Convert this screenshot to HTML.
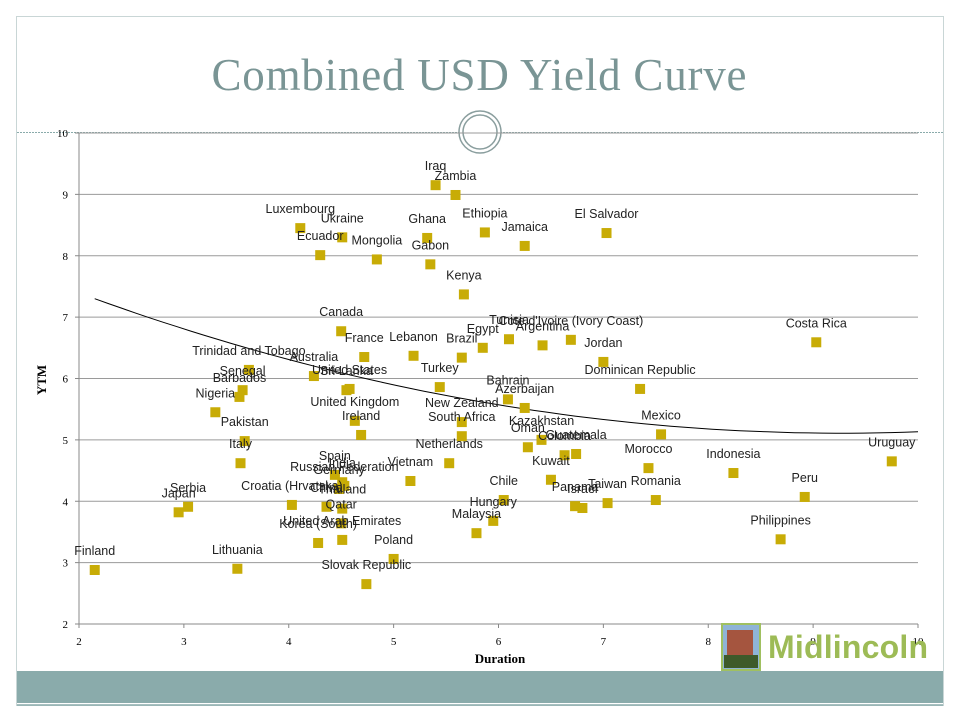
<!DOCTYPE html>
<html><head><meta charset="utf-8"><style>
html,body{margin:0;padding:0;background:#fff;}
body{width:960px;height:720px;position:relative;overflow:hidden;font-family:"Liberation Sans",sans-serif;}
</style></head><body>
<svg id="chart" width="960" height="720" xmlns="http://www.w3.org/2000/svg">
<rect x="16.5" y="16.5" width="927" height="689" fill="none" stroke="#c9d6d6" stroke-width="1"/>
<rect x="17" y="671" width="926" height="32" fill="#8aabab"/>
<line x1="17" y1="705" x2="943" y2="705" stroke="#8aabab" stroke-width="1.5"/>
<text x="479" y="90" text-anchor="middle" font-family="'Liberation Serif',serif" font-size="45" fill="#7a9595" textLength="535">Combined USD Yield Curve</text>
<line x1="17" y1="132.5" x2="943" y2="132.5" stroke="#8aabab" stroke-width="1" stroke-dasharray="2,1"/>
<circle cx="480" cy="132" r="21" fill="#fff" stroke="#8a9e9e" stroke-width="1.5"/>
<circle cx="480" cy="132" r="17" fill="none" stroke="#8a9e9e" stroke-width="1.5"/>
<g id="plot"></g>
<text x="500" y="663" text-anchor="middle" font-family="'Liberation Serif',serif" font-weight="bold" font-size="13" fill="#000">Duration</text>
<text transform="translate(46,380) rotate(-90)" text-anchor="middle" font-family="'Liberation Serif',serif" font-weight="bold" font-size="13" fill="#000">YTM</text>
<g>
<rect x="721" y="623" width="40" height="48" fill="#a0c060"/>
<rect x="723" y="625" width="36" height="44" fill="#8fb4d6"/>
<rect x="727" y="630" width="26" height="38" fill="#a5553f"/>
<rect x="724" y="655" width="34" height="13" fill="#3e5a2a"/>
<text x="768" y="658" font-family="'Liberation Sans',sans-serif" font-weight="bold" font-size="32" fill="#9dbb56" textLength="160">Midlincoln</text>
</g>
</svg>
<script>
const names = ["Finland","Lithuania","Japan","Serbia","Nigeria","Barbados","Senegal","Trinidad and Tobago","Pakistan","Italy","Croatia (Hrvatska)","Canada","France","Australia","Sri Lanka","United States","United Kingdom","Ireland","Spain","Russian Federation","India","Germany","China","Thailand","United Arab Emirates","Qatar","Korea (South)","Poland","Slovak Republic","Vietnam","Netherlands","Turkey","Lebanon","Brazil","Egypt","Tunisia","Argentina","Cote d'Ivoire (Ivory Coast)","Jordan","Dominican Republic","Bahrain","Azerbaijan","New Zealand","South Africa","Oman","Kazakhstan","Colombia","Guatemala","Kuwait","Chile","Hungary","Malaysia","Panama","Israel","Taiwan","Romania","Morocco","Mexico","Indonesia","Peru","Philippines","Costa Rica","Uruguay","Iraq","Zambia","Luxembourg","Ukraine","Ecuador","Mongolia","Ghana","Gabon","Ethiopia","Jamaica","El Salvador","Kenya"];
const duration = [2.15,3.51,2.95,3.04,3.30,3.53,3.56,3.62,3.58,3.54,4.03,4.50,4.72,4.24,4.55,4.58,4.63,4.69,4.44,4.53,4.51,4.48,4.36,4.51,4.51,4.50,4.28,5.00,4.74,5.16,5.53,5.44,5.19,5.65,5.85,6.10,6.42,6.69,7.00,7.35,6.09,6.25,5.65,5.65,6.28,6.41,6.63,6.74,6.50,6.05,5.95,5.79,6.73,6.80,7.04,7.50,7.43,7.55,8.24,8.92,8.69,9.03,9.75,5.40,5.59,4.11,4.51,4.30,4.84,5.32,5.35,5.87,6.25,7.03,5.67];
const ytm = [2.88,2.90,3.82,3.91,5.45,5.70,5.81,6.14,4.98,4.62,3.94,6.77,6.35,6.04,5.81,5.83,5.31,5.08,4.43,4.25,4.31,4.20,3.91,3.88,3.37,3.64,3.32,3.06,2.65,4.33,4.62,5.86,6.37,6.34,6.50,6.64,6.54,6.63,6.27,5.83,5.66,5.52,5.29,5.06,4.88,5.00,4.75,4.77,4.35,4.02,3.68,3.48,3.92,3.89,3.97,4.02,4.54,5.09,4.46,4.07,3.38,6.59,4.65,9.15,8.99,8.45,8.30,8.01,7.94,8.29,7.86,8.38,8.16,8.37,7.37];
const xTicks = [2,3,4,5,6,7,8,9,10];
const yTicks = [2,3,4,5,6,7,8,9,10];
const trendCoef = [8.822,-0.801,0.0432]; // y = a + b x + c x^2
const trendRange = [2.15,10];

const NS="http://www.w3.org/2000/svg";
const X0=79,X1=918,Y0=624,Y1=133;
function sx(v){return X0+(v-2)/(10-2)*(X1-X0);}
function sy(v){return Y0-(v-2)/(10-2)*(Y0-Y1);}
const plot=document.getElementById('plot');
function mk(tag,attrs){const e=document.createElementNS(NS,tag);for(const k in attrs)e.setAttribute(k,attrs[k]);plot.appendChild(e);return e;}

yTicks.forEach(t=>{
  const g=mk('line',{x1:X0,x2:X1,y1:sy(t),y2:sy(t),stroke:t===2?'#888':'#9a9a9a','stroke-width':1});
  
  
  const tk=mk('line',{x1:X0-4,x2:X0,y1:sy(t),y2:sy(t),stroke:'#888'});
  
  
  const l=mk('text',{x:X0-11,y:sy(t)+4,'text-anchor':'end','font-family':"'Liberation Serif',serif",'font-size':11,fill:'#000'});
  l.textContent=t;
  
  
});
const ya=mk('line',{x1:X0,x2:X0,y1:Y1,y2:Y0,stroke:'#888'});


xTicks.forEach(t=>{
  const tk=mk('line',{x1:sx(t),x2:sx(t),y1:Y0,y2:Y0+4,stroke:'#888'});
  
  
  const l=mk('text',{x:sx(t),y:Y0+21,'text-anchor':'middle','font-family':"'Liberation Serif',serif",'font-size':11,fill:'#000'});
  l.textContent=t;
  
  
});

let d='';
for(let i=0;i<=60;i++){const x=trendRange[0]+(trendRange[1]-trendRange[0])*i/60;const y=trendCoef[0]+trendCoef[1]*x+trendCoef[2]*x*x;d+=(i?'L':'M')+sx(x).toFixed(1)+','+sy(y).toFixed(1);}
const tr=mk('path',{d:d,fill:'none',stroke:'#000','stroke-width':1});



names.forEach((n,i)=>{
  const cx=sx(duration[i]),cy=sy(ytm[i]);
  const r=mk('rect',{x:cx-5,y:cy-5,width:10,height:10,fill:'#c8ac06'});
  
  
});
names.forEach((n,i)=>{
  const cx=sx(duration[i]),cy=sy(ytm[i]);
  const t=mk('text',{x:cx,y:cy-15,'text-anchor':'middle','font-size':12.5,fill:'#222'});
  t.textContent=n;
  
  
});
</script>
</body></html>
